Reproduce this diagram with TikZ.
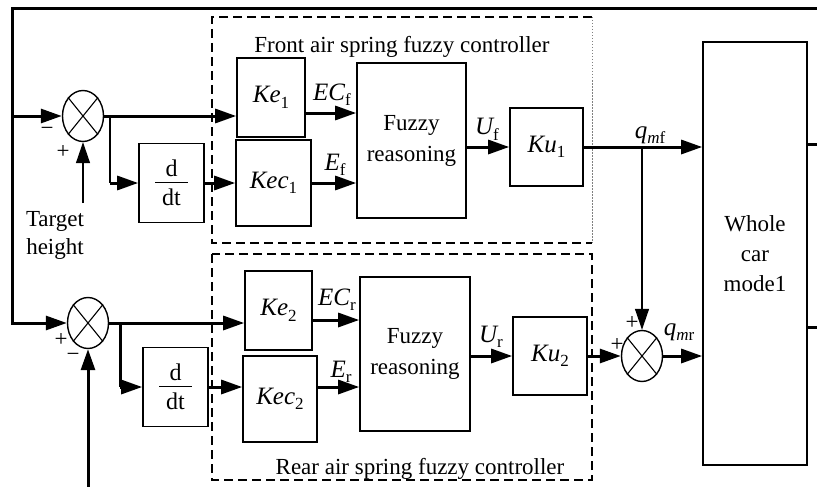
\documentclass[tikz,border=0pt]{standalone}
\usepackage{fontspec}
\setmainfont{Liberation Serif}
\usetikzlibrary{arrows.meta,shapes.geometric}
\newcommand\sbs[1]{\raisebox{-0.22em}{\fontsize{17}{17}\selectfont #1}}
\newcommand\ddtfrac{\vbox{\hbox to 33pt{\hss d\hss}\kern5pt\hrule height 1.3pt\kern6pt\hbox to 33pt{\hss dt\hss}}}
\begin{document}
\begin{tikzpicture}[x=1pt,y=-1pt,
  blk/.style={draw,line width=1.6pt,inner sep=0pt,font=\fontsize{25}{28}\selectfont},
  txtblk/.style={draw,line width=1.6pt,inner sep=0pt,align=center,font=\fontsize{23}{31}\selectfont},
  sumj/.style={draw,ellipse,line width=1.4pt,minimum width=41pt,minimum height=51pt,inner sep=0pt},
  thk/.style={line width=3pt},
  thn/.style={line width=1.3pt},
  tip/.style={-{Triangle[length=21pt,width=14pt]}},
  lbl/.style={inner sep=0pt,anchor=base,font=\fontsize{25}{28}\selectfont},
  sgn/.style={inner sep=0pt,font=\fontsize{23}{24}\selectfont},
  ttl/.style={inner sep=0pt,anchor=base,font=\fontsize{23}{24}\selectfont},
  dbox/.style={line width=1.3pt,dash pattern=on 9pt off 5pt},
]
\useasboundingbox (0,0) rectangle (817,487);

% dashed controller frames
\draw[dbox] (592,17) -- (212,17) -- (212,243) -- (592,243);
\draw[line width=0.8pt,gray,dash pattern=on 1.5pt off 1.5pt] (592,17) -- (592,243);
\draw[dbox] (212,254) rectangle (592,480);
\node[ttl] (tF) at (402,53) {Front air spring fuzzy controller};
\node[ttl] (tR) at (420,474) {Rear air spring fuzzy controller};

% front blocks
\node[sumj] (S1) at (83,116) {};
\node[blk,minimum width=68pt,minimum height=79pt] (Ke1) at (271,97.5) {{\itshape Ke}\sbs{1}};
\node[blk,minimum width=75pt,minimum height=86pt] (Kec1) at (273.5,183) {{\itshape Kec}\sbs{1}};
\node[txtblk,minimum width=109pt,minimum height=155pt] (Fz1) at (411.5,140.5) {Fuzzy\\reasoning};
\node[blk,minimum width=73pt,minimum height=78pt] (Ku1) at (546.5,147) {{\itshape Ku}\sbs{1}};
\node[draw,line width=1.6pt,inner sep=0pt,minimum width=65pt,minimum height=79pt,font=\fontsize{24}{24}\selectfont] (dd1) at (171.5,183) {\ddtfrac};

% rear blocks
\node[sumj] (S2) at (88,323) {};
\node[blk,minimum width=67pt,minimum height=79pt] (Ke2) at (278.5,310.5) {{\itshape Ke}\sbs{2}};
\node[blk,minimum width=74pt,minimum height=86pt] (Kec2) at (280,399) {{\itshape Kec}\sbs{2}};
\node[txtblk,minimum width=110pt,minimum height=154pt] (Fz2) at (415,354) {Fuzzy\\reasoning};
\node[blk,minimum width=74pt,minimum height=78pt] (Ku2) at (550,356) {{\itshape Ku}\sbs{2}};
\node[draw,line width=1.6pt,inner sep=0pt,minimum width=65pt,minimum height=79pt,font=\fontsize{24}{24}\selectfont] (dd2) at (175.5,387) {\ddtfrac};
\node[sumj] (S3) at (642,356) {};

% whole car model
\node[txtblk,minimum width=104pt,minimum height=423pt,font=\fontsize{23}{30}\selectfont] (car) at (755,253.5) {Whole\\car\\mode1};

% crosses in summing junctions
\foreach \s in {S1,S2,S3}{
  \draw[line width=1.1pt] (\s.north east) -- (\s.south west) (\s.north west) -- (\s.south east);
}

% helper coordinates
\coordinate (fbR) at (817,9);
\coordinate (fbL) at (12,9);
\coordinate (inB) at (88,487);
\coordinate (th) at (83,203);
\coordinate (outA) at (817,144);
\coordinate (outB) at (817,327);
\coordinate (br1) at (110,116);
\coordinate (br2) at (120,323);
\coordinate (a1) at ([yshift=-15.5pt]Ke1.east);
\coordinate (a2) at ([yshift=-9.5pt]Ke2.east);
\coordinate (b2) at ([yshift=12pt]Kec2.east);

% feedback and inputs
\draw[thk,tip] (fbR) -- (fbL) -- (fbL |- S2.west) -- (S2.west);
\draw[thk,tip] (fbL |- S1.west) -- (S1.west);
\draw[thn,tip] (th) -- (S1.south);
\draw[thk,tip] (inB) -- (S2.south);

% front path
\draw[thk,tip] (S1.east) -- (S1.east -| Ke1.west);
\draw[line width=1.5pt] (br1) -- (br1 |- dd1.west);
\draw[thk,tip] (br1 |- dd1.west) -- (dd1.west);
\draw[thk,tip] (dd1.east) -- (dd1.east -| Kec1.west);
\draw[thk,tip] (a1) -- (a1 -| Fz1.west);
\draw[thk,tip] (Kec1.east) -- (Kec1.east -| Fz1.west);
\draw[thk,tip] (Ku1.west -| Fz1.east) -- (Ku1.west);
\draw[thk,tip] (Ku1.east) -- (Ku1.east -| car.west);
\draw[thn,tip] (S3 |- Ku1.east) -- (S3.north);

% rear path
\draw[thk,tip] (S2.east) -- (S2.east -| Ke2.west);
\draw[thk] (br2) -- (br2 |- dd2.west);
\draw[thk,tip] (br2 |- dd2.west) -- (dd2.west);
\draw[thk,tip] (dd2.east) -- (dd2.east -| Kec2.west);
\draw[thk,tip] (a2) -- (a2 -| Fz2.west);
\draw[thk,tip] (b2) -- (b2 -| Fz2.west);
\draw[thk,tip] (Ku2.west -| Fz2.east) -- (Ku2.west);
\draw[thk,tip] (Ku2.east) -- (S3.west);
\draw[thk,tip] (S3.east) -- (S3.east -| car.west);

% outputs
\draw[thk] (car.east |- outA) -- (outA);
\draw[thk] (car.east |- outB) -- (outB);

% signal labels
\node[lbl] (lECf) at (332,100) {{\itshape EC}\sbs{f}};
\node[lbl] (lEf) at (335,170) {{\itshape E}\sbs{f}};
\node[lbl] (lUf) at (487,135) {{\itshape U}\sbs{f}};
\node[lbl] (lqmf) at (650,138) {{\itshape q}\sbs{\itshape m\upshape f}};
\node[lbl] (lECr) at (337,305) {{\itshape EC}\sbs{r}};
\node[lbl] (lEr) at (341,377) {{\itshape E}\sbs{r}};
\node[lbl] (lUr) at (491,342) {{\itshape U}\sbs{r}};
\node[lbl] (lqmr) at (679,335) {{\itshape q}\sbs{\itshape m\upshape r}};

% signs
\node[sgn] (m1) at (47,131) {−};
\node[sgn] (p1) at (63,152) {+};
\node[sgn] (p2) at (61,340) {+};
\node[sgn] (m2) at (73,357) {−};
\node[sgn] (p3) at (632,323) {+};
\node[sgn] (p4) at (617,345) {+};

\node[inner sep=0pt,align=center,font=\fontsize{23}{28}\selectfont] (tgt) at (55,235.5) {Target\\height};
\end{tikzpicture}
\end{document}
